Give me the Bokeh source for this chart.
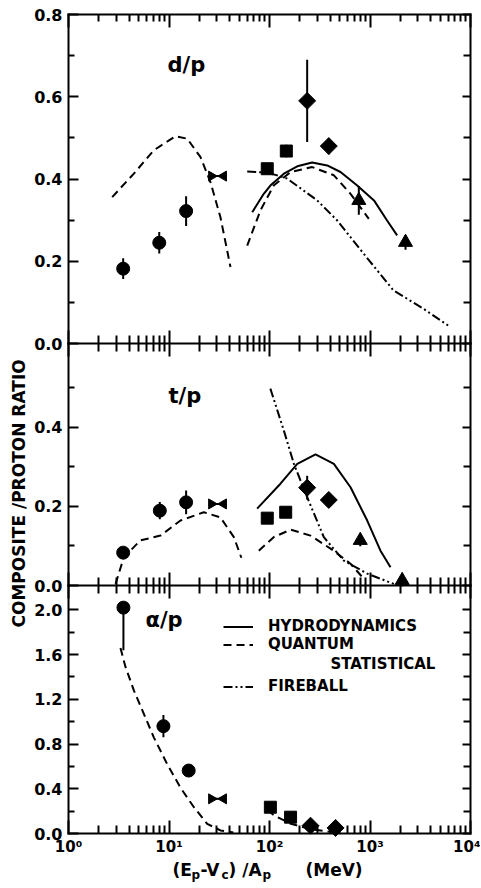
import numpy as np
from bokeh.plotting import figure
from bokeh.models import (Range1d, LinearAxis, LogAxis, FixedTicker, Label,
                          Legend, LegendItem, PrintfTickFormatter)
from bokeh.embed import file_html
from bokeh.resources import INLINE

FONT = "DejaVu Sans"

# ---------------- data (energy in MeV/A) ----------------
# d/p panel
dp_circle_x = [3.5, 8.0, 14.8]
dp_circle_y = [0.182, 0.245, 0.322]
dp_circle_err = [0.025, 0.026, 0.036]
dp_bow_lo, dp_bow_hi, dp_bow_y = 26.5, 34.9, 0.407
dp_square_x = [95, 147]
dp_square_y = [0.425, 0.468]
dp_square_err = [0.012, 0.015]
dp_diamond_x = [237, 389]
dp_diamond_y = [0.59, 0.48]
dp_diamond_err = [0.1, 0.02]
dp_triangle_x = [774, 2256]
dp_triangle_y = [0.348, 0.246]
dp_triangle_err = [0.035, 0.018]

dp_hydro_x = [67.3, 87.7, 102, 139, 189, 266, 375, 509, 746, 1096, 1479, 1862]
dp_hydro_y = [0.319, 0.364, 0.384, 0.413, 0.431, 0.44, 0.433, 0.417, 0.384, 0.348, 0.299, 0.263]
dp_quant1_x = [2.72, 4.47, 7.06, 11.6, 15.2, 20.6, 25.9, 32.5, 40.9]
dp_quant1_y = [0.356, 0.413, 0.47, 0.504, 0.498, 0.453, 0.392, 0.307, 0.186]
dp_quant2_x = [60, 81.3, 110, 162, 266, 437, 640, 973]
dp_quant2_y = [0.238, 0.324, 0.384, 0.417, 0.429, 0.409, 0.364, 0.303]
dp_fire_x = [60, 89, 115, 150, 298, 472, 861, 1714, 3430, 6310]
dp_fire_y = [0.418, 0.416, 0.41, 0.401, 0.348, 0.299, 0.219, 0.129, 0.084, 0.04]

# t/p panel
tp_circle_x = [3.5, 8.1, 14.8]
tp_circle_y = [0.083, 0.189, 0.21]
tp_circle_err = [0.012, 0.022, 0.03]
tp_bow_lo, tp_bow_hi, tp_bow_y = 26.5, 34.9, 0.206
tp_square_x = [95, 145]
tp_square_y = [0.17, 0.185]
tp_square_err = [0.01, 0.012]
tp_diamond_x = [237, 389]
tp_diamond_y = [0.247, 0.216]
tp_diamond_err = [0.03, 0.012]
tp_triangle_x = [800, 2090]
tp_triangle_y = [0.114, 0.013]
tp_triangle_err = [0.015, 0.015]

tp_hydro_x = [75.3, 128.5, 189, 287, 437, 640, 938, 1271, 1600]
tp_hydro_y = [0.194, 0.257, 0.307, 0.331, 0.307, 0.248, 0.164, 0.088, 0.046]
tp_quant1_x = [2.94, 3.55, 5.2, 8.22, 13.0, 22.2, 32.5, 44.2, 52.5]
tp_quant1_y = [0.004, 0.071, 0.114, 0.126, 0.164, 0.185, 0.172, 0.122, 0.07]
tp_quant2_x = [78.3, 110, 162, 256, 405, 640, 867]
tp_quant2_y = [0.088, 0.122, 0.141, 0.126, 0.093, 0.055, 0.017]
tp_fire_x = [102, 139, 175, 237, 347, 548, 938, 1726]
tp_fire_y = [0.497, 0.391, 0.307, 0.223, 0.122, 0.063, 0.03, 0.004]

# alpha/p panel
ap_circle_x = [3.52, 8.8, 15.7]
ap_circle_y = [2.02, 0.96, 0.563]
ap_circle_err_lo = [0.38, 0.1, 0.03]
ap_circle_err_hi = [0.0, 0.1, 0.03]
ap_bow_lo, ap_bow_hi, ap_bow_y = 26.5, 34.9, 0.31
ap_square_x = [102, 162]
ap_square_y = [0.235, 0.146]
ap_diamond_x = [256, 454]
ap_diamond_y = [0.07, 0.05]

ap_quant1_x = [3.29, 3.69, 4.47, 5.62, 7.06, 9.6, 13.0, 17.7, 24.0, 32.5, 43.7]
ap_quant1_y = [1.66, 1.49, 1.28, 1.07, 0.86, 0.62, 0.41, 0.235, 0.087, 0.027, 0.01]
ap_quant2_x = [95, 112, 160, 250, 400]
ap_quant2_y = [0.21, 0.16, 0.09, 0.04, 0.015]

x_decades = [1, 10, 100, 1000, 10000]
x_labels = ["10\u2070", "10\u00b9", "10\u00b2", "10\u00b3", "10\u2074"]
dp_ticks, dp_minor = [0.0, 0.2, 0.4, 0.6, 0.8], [0.1, 0.3, 0.5, 0.7]
tp_ticks, tp_minor = [0.0, 0.2, 0.4], [0.1, 0.3, 0.5]
ap_ticks, ap_minor = [0.0, 0.4, 0.8, 1.2, 1.6, 2.0], [0.2, 0.6, 1.0, 1.4, 1.8]

# ---------------- page geometry (pixels) ----------------
W, H = 480, 887
X_LEFT, PX_PER_DECADE = 68, 100.5          # x = 1 sits at X_LEFT
panels = {  # name: (top px, bottom px, value max)
    "default": (14, 343, 0.8),
    "mid": (343, 585, 0.611),
    "bot": (585, 833, 2.218),
}


def panel_range(name):
    top, bot, vmax = panels[name]
    upp = vmax / (bot - top)
    return Range1d(-(H - bot) * upp, vmax + top * upp)


def px_to_x(px):
    return 10 ** ((px - X_LEFT) / PX_PER_DECADE)


def py_to_y(name, py):
    top, bot, vmax = panels[name]
    return (bot - py) * vmax / (bot - top)


p = figure(width=W, height=H, x_axis_type="log",
           x_range=Range1d(px_to_x(0), px_to_x(W)),
           y_range=panel_range("default"), output_backend="svg",
           toolbar_location=None, x_axis_location=None, y_axis_location=None,
           min_border=0, outline_line_color=None)
p.extra_y_ranges = {"mid": panel_range("mid"), "bot": panel_range("bot")}
p.grid.visible = False
p.background_fill_color = "white"
p.border_fill_color = "white"

xminor = [m * d for d in x_decades[:-1] for m in range(2, 10)]
XB = (x_decades[0], x_decades[-1])


def style_axis(ax, tin, tout, mtin, mtout, labels=False, size="16px"):
    ax.axis_line_width = 2
    ax.axis_line_cap = "square"
    ax.major_tick_line_width = 2
    ax.minor_tick_line_width = 2
    ax.major_tick_in = tin
    ax.major_tick_out = tout
    ax.minor_tick_in = mtin
    ax.minor_tick_out = mtout
    ax.major_label_text_font = FONT
    ax.major_label_text_font_style = "bold"
    ax.major_label_text_font_size = size
    ax.major_label_text_color = "black" if labels else None


# x axes: top edge, two separators, bottom (labelled)
ax_top = LogAxis(ticker=FixedTicker(ticks=x_decades, minor_ticks=xminor),
                 fixed_location=panels["default"][2], bounds=XB)
style_axis(ax_top, 13, 0, 7, 0)
p.add_layout(ax_top, "above")
for rn in ["default", "mid"]:
    ax_sep = LogAxis(ticker=FixedTicker(ticks=x_decades, minor_ticks=xminor),
                     fixed_location=0.0, y_range_name=rn, bounds=XB)
    style_axis(ax_sep, 13, 13, 8, 8)
    p.add_layout(ax_sep, "below")
ax_bot = LogAxis(ticker=FixedTicker(ticks=x_decades, minor_ticks=xminor),
                 fixed_location=0.0, y_range_name="bot", bounds=XB,
                 major_label_overrides=dict(zip(x_decades, x_labels)))
style_axis(ax_bot, 13, 0, 8, 0, labels=True, size="15px")
ax_bot.major_label_standoff = 4
p.add_layout(ax_bot, "below")

# y axes, left (labelled) and right, per panel
for rn, ticks, minor in [("default", dp_ticks, dp_minor),
                         ("mid", tp_ticks, tp_minor),
                         ("bot", ap_ticks, ap_minor)]:
    yb = (0.0, panels[rn][2])
    axl = LinearAxis(ticker=FixedTicker(ticks=ticks, minor_ticks=minor),
                     y_range_name=rn, fixed_location=x_decades[0], bounds=yb,
                     formatter=PrintfTickFormatter(format="%.1f"))
    style_axis(axl, 10, 0, 6, 0, labels=True)
    axl.major_label_standoff = 6
    p.add_layout(axl, "left")
    axr = LinearAxis(ticker=FixedTicker(ticks=ticks, minor_ticks=minor),
                     y_range_name=rn, fixed_location=x_decades[-1], bounds=yb)
    style_axis(axr, 8, 0, 7, 0)
    p.add_layout(axr, "right")

HYDRO = dict(line_color="black", line_width=2)
QUANT = dict(line_color="black", line_width=2, line_dash="8 5")
FIRE = dict(line_color="black", line_width=2, line_dash="9 3 2 3 2 3")


def errbars(x, y, lo, hi, rn):
    p.segment(x0=x, y0=[a - b for a, b in zip(y, lo)], x1=x,
              y1=[a + b for a, b in zip(y, hi)], line_color="black",
              line_width=2, y_range_name=rn)


def markers(rn, cx, cy, clo, chi, bow, sx, sy, serr, dx, dy, derr, tx=None, ty=None, terr=None):
    errbars(cx, cy, clo, chi, rn)
    p.scatter(cx, cy, marker="circle", size=13, color="black", y_range_name=rn)
    lo, hi, by = bow
    p.segment(x0=[lo], y0=[by], x1=[hi], y1=[by], line_color="black",
              line_width=2, y_range_name=rn)
    p.scatter([lo], [by], marker="triangle", angle=-np.pi / 2, size=10,
              color="black", y_range_name=rn)
    p.scatter([hi], [by], marker="triangle", angle=np.pi / 2, size=10,
              color="black", y_range_name=rn)
    if serr is not None:
        errbars(sx, sy, serr, serr, rn)
    p.scatter(sx, sy, marker="square", size=12, color="black", y_range_name=rn)
    if derr is not None:
        errbars(dx, dy, derr, derr, rn)
    p.scatter(dx, dy, marker="square", angle=np.pi / 4, size=12,
              color="black", y_range_name=rn)
    if tx is not None:
        errbars(tx, ty, terr, terr, rn)
        p.scatter(tx, ty, marker="triangle", size=14, color="black",
                  y_range_name=rn)


# d/p
r_hydro = p.line(dp_hydro_x, dp_hydro_y, **HYDRO)
r_quant = p.line(dp_quant1_x, dp_quant1_y, **QUANT)
p.line(dp_quant2_x, dp_quant2_y, **QUANT)
r_fire = p.line(dp_fire_x, dp_fire_y, **FIRE)
markers("default", dp_circle_x, dp_circle_y, dp_circle_err, dp_circle_err,
        (dp_bow_lo, dp_bow_hi, dp_bow_y), dp_square_x, dp_square_y, dp_square_err,
        dp_diamond_x, dp_diamond_y, dp_diamond_err,
        dp_triangle_x, dp_triangle_y, dp_triangle_err)

# t/p
p.line(tp_hydro_x, tp_hydro_y, y_range_name="mid", **HYDRO)
p.line(tp_quant1_x, tp_quant1_y, y_range_name="mid", **QUANT)
p.line(tp_quant2_x, tp_quant2_y, y_range_name="mid", **QUANT)
p.line(tp_fire_x, tp_fire_y, y_range_name="mid", **FIRE)
markers("mid", tp_circle_x, tp_circle_y, tp_circle_err, tp_circle_err,
        (tp_bow_lo, tp_bow_hi, tp_bow_y), tp_square_x, tp_square_y, tp_square_err,
        tp_diamond_x, tp_diamond_y, tp_diamond_err,
        tp_triangle_x, tp_triangle_y, tp_triangle_err)

# alpha/p
p.line(ap_quant1_x, ap_quant1_y, y_range_name="bot", **QUANT)
p.line(ap_quant2_x, ap_quant2_y, y_range_name="bot", **QUANT)
markers("bot", ap_circle_x, ap_circle_y, ap_circle_err_lo, ap_circle_err_hi,
        (ap_bow_lo, ap_bow_hi, ap_bow_y), ap_square_x, ap_square_y, None,
        ap_diamond_x, ap_diamond_y, None)

# ---------------- texts ----------------
TXT = dict(text_font=FONT, text_font_style="bold", text_color="black")


def text_at(px, py, rn, text, size, **kw):
    p.add_layout(Label(x=px_to_x(px), y=py_to_y(rn, py), y_range_name=rn,
                       text=text, text_font_size=size, **TXT, **kw))


text_at(167, 64, "default", "d/p", "21px", text_baseline="middle")
text_at(168, 395, "mid", "t/p", "21px", text_baseline="middle")
text_at(145, 619, "bot", "\u03b1/p", "21px", text_baseline="middle")
text_at(330, 663, "bot", "STATISTICAL", "15px", text_baseline="middle")
text_at(18, 627, "mid", "COMPOSITE /PROTON RATIO", "17px", angle=np.pi / 2,
        text_align="left", text_baseline="middle")

# x title with subscripts
title_parts = [("(E", 172, 869, "17px"), ("p", 191, 874, "12px"),
               ("-V", 200, 869, "17px"), ("c", 221, 874, "12px"),
               (") /A", 228, 869, "17px"), ("p", 262, 874, "12px"),
               ("(MeV)", 305, 869, "17px")]
for t, px, py, fs in title_parts:
    text_at(px, py, "bot", t, fs, text_baseline="alphabetic")

# legend (location = lower-left corner, pixels from the canvas' lower-left)
leg_style = dict(label_text_font=FONT, label_text_font_style="bold",
                 label_text_font_size="15px", label_text_color="black",
                 glyph_width=30, glyph_height=17,
                 label_height=17, label_standoff=15, spacing=0, padding=0,
                 margin=0, border_line_color=None, background_fill_alpha=0)
legA = Legend(items=[LegendItem(label="HYDRODYNAMICS", renderers=[r_hydro]),
                     LegendItem(label="QUANTUM", renderers=[r_quant])],
              location=(223, 234), **leg_style)
legB = Legend(items=[LegendItem(label="FIREBALL", renderers=[r_fire])],
              location=(223, 192), **leg_style)
p.add_layout(legA)
p.add_layout(legB)

open("out.html", "w").write(file_html(p, INLINE))
